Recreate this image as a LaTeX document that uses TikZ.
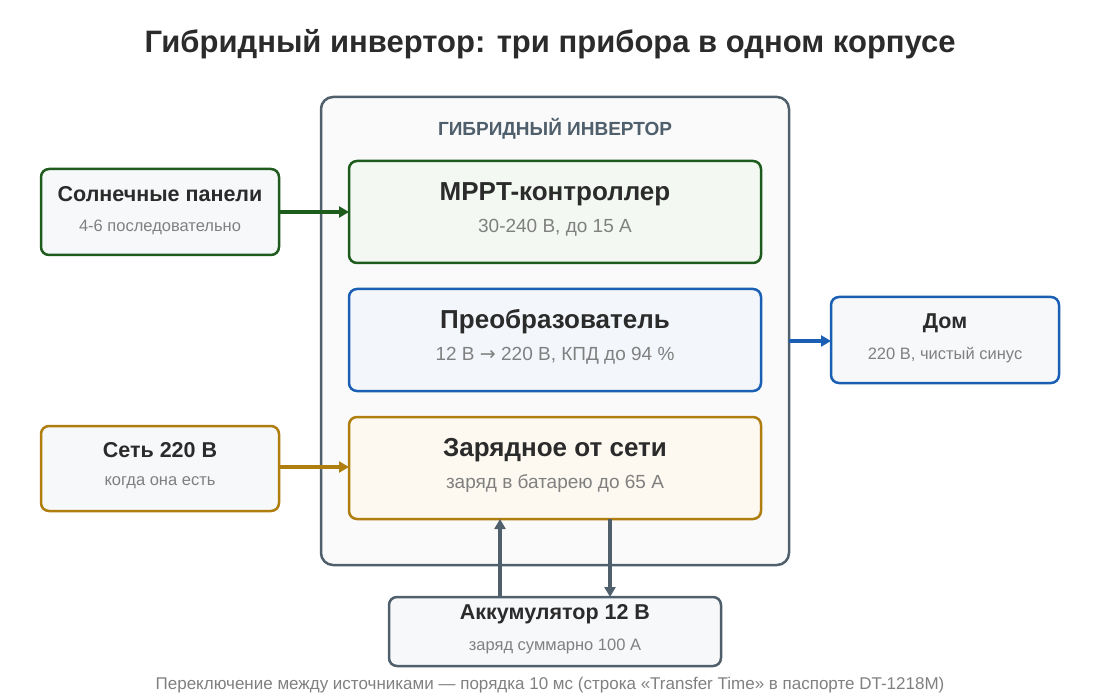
\documentclass[tikz,border=0pt]{standalone}
\usepackage{fontspec}
\setmainfont{Liberation Sans}
\newfontfamily\symfont{DejaVu Sans}
\usetikzlibrary{arrows.meta}
\definecolor{frame}{HTML}{4F5F6B}
\definecolor{grn}{HTML}{1E5C1E}
\definecolor{blu}{HTML}{1A5FB4}
\definecolor{gld}{HTML}{B07D0F}
\definecolor{txt}{HTML}{2B2B2B}
\definecolor{sub}{HTML}{808080}
\definecolor{pale}{HTML}{F6F8FA}
\definecolor{paleG}{HTML}{F3F9F2}
\definecolor{paleB}{HTML}{F3F7FC}
\definecolor{paleY}{HTML}{FDF9F0}
\tikzset{
  blk/.style={draw, line width=2.5pt, rounded corners=8pt},
  ttl/.style={font=\bfseries\fontsize{21.5}{24}\selectfont, text=txt},
  big/.style={font=\bfseries\fontsize{26}{28}\selectfont, text=txt},
  lbl/.style={font=\fontsize{16.5}{18}\selectfont, text=sub},
  lblb/.style={font=\fontsize{19}{21}\selectfont, text=sub},
  arr/.style={line width=4pt, -{Triangle[length=10pt,width=11pt]}}
}
\begin{document}
\begin{tikzpicture}[x=1pt,y=-1pt]
    \useasboundingbox (0,0) rectangle (1100,700);
    % Title
    \node[font=\bfseries\fontsize{31}{34}\selectfont, text=txt] (title) at (550,44) {Гибридный инвертор: три прибора в одном корпусе};

    % Inverter frame
    \draw[blk, frame, fill=black!2, rounded corners=12pt] (321,97) rectangle (789,565);
    \coordinate (frameE) at (789,341);
    \node[font=\bfseries\fontsize{19}{21}\selectfont, text=frame] (inv) at (555,129) {ГИБРИДНЫЙ ИНВЕРТОР};

    % Inner blocks
    \draw[blk, grn, fill=paleG] (349,161) rectangle (761,263);
    \node[big] (mppt) at (555,194) {MPPT-контроллер};
    \node[lblb] (mpptS) at (555,228) {30-240 В, до 15 А};
    \coordinate (mpptW) at (349,212);

    \draw[blk, blu, fill=paleB] (349,289) rectangle (761,391);
    \node[big] (conv) at (555,322) {Преобразователь};
    \node[lblb] (convS) at (555,356) {12 В {\symfont →} 220 В, КПД до 94 \%};

    \draw[blk, gld, fill=paleY] (349,417) rectangle (761,519);
    \node[big] (chg) at (555,450) {Зарядное от сети};
    \node[lblb] (chgS) at (555,484) {заряд в батарею до 65 А};
    \coordinate (chgW) at (349,467);
    \coordinate (chgA) at (500,519);
    \coordinate (chgB) at (610,519);

    % Outer blocks
    \draw[blk, grn, fill=pale] (41,169) rectangle (279,255);
    \node[ttl] (sol) at (160,194) {Солнечные панели};
    \node[lbl] (solS) at (160,227) {4-6 последовательно};
    \coordinate (solE) at (279,212);

    \draw[blk, gld, fill=pale] (41,426) rectangle (279,511);
    \node[ttl] (grid) at (160,450) {Сеть 220 В};
    \node[lbl] (gridS) at (160,483) {когда она есть};
    \coordinate (gridE) at (279,467);

    \draw[blk, blu, fill=pale] (831,297) rectangle (1059,383);
    \node[ttl] (home) at (945,323) {Дом};
    \node[lbl] (homeS) at (945,355) {220 В, чистый синус};
    \coordinate (homeW) at (831,341);

    \draw[blk, frame, fill=pale] (389,597) rectangle (721,666);
    \node[ttl] (bat) at (555,614) {Аккумулятор 12 В};
    \node[lbl] (batS) at (555,646) {заряд суммарно 100 А};
    \coordinate (batA) at (500,597);
    \coordinate (batB) at (610,597);

    % Arrows
    \draw[arr, grn] (solE) -- (mpptW);
    \draw[arr, gld] (gridE) -- (chgW);
    \draw[arr, blu] (frameE) -- (homeW);
    \draw[arr, frame] (batA) -- (chgA);
    \draw[arr, frame] (chgB) -- (batB);

    % Footnote
    \node[lbl, font=\fontsize{17}{19}\selectfont] (note) at (550,685) {Переключение между источниками — порядка 10 мс (строка «Transfer Time» в паспорте DT-1218M)};
\end{tikzpicture}
\end{document}
